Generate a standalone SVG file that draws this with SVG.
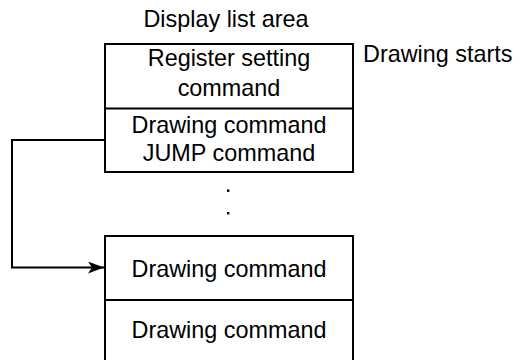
<svg xmlns="http://www.w3.org/2000/svg" width="530" height="360" viewBox="0 0 530 360">
<defs>
<style>
text{font-family:"Liberation Sans",Arial,sans-serif;font-size:23.4px;fill:#000}
.c{text-anchor:middle}
.box{fill:#fff;stroke:#000;stroke-width:2}
.ln{fill:none;stroke:#000;stroke-width:2}
</style>
<marker id="ah" viewBox="0 0 16 12" refX="16" refY="6" markerWidth="16" markerHeight="12" markerUnits="userSpaceOnUse" orient="auto">
<path d="M0,0 L16,6 L0,12 L4,6 Z" fill="#000"/>
</marker>
</defs>
<text id="lbl-area" class="c" x="226" y="27">Display list area</text>
<text id="lbl-start" x="363" y="62">Drawing starts</text>
<g id="node-top">
<rect class="box" x="105" y="44" width="248" height="128"/>
<line class="ln" x1="105" y1="108.5" x2="353" y2="108.5"/>
<text class="c" x="229" y="66">Register setting</text>
<text class="c" x="229" y="96">command</text>
<text class="c" x="229" y="133">Drawing command</text>
<text class="c" x="229" y="161">JUMP command</text>
</g>
<g id="node-dots">
<rect x="227" y="189.5" width="2.4" height="2.4" fill="#000"/>
<rect x="227" y="212" width="2.4" height="2.4" fill="#000"/>
</g>
<g id="node-bottom">
<rect class="box" x="105" y="236" width="248" height="140"/>
<line class="ln" x1="105" y1="300" x2="353" y2="300"/>
<text class="c" x="229" y="277">Drawing command</text>
<text class="c" x="229" y="338">Drawing command</text>
</g>
<g id="connectors">
<path class="ln" d="M105,140 H12 V267.5 H104" marker-end="url(#ah)"/>
</g>
</svg>
